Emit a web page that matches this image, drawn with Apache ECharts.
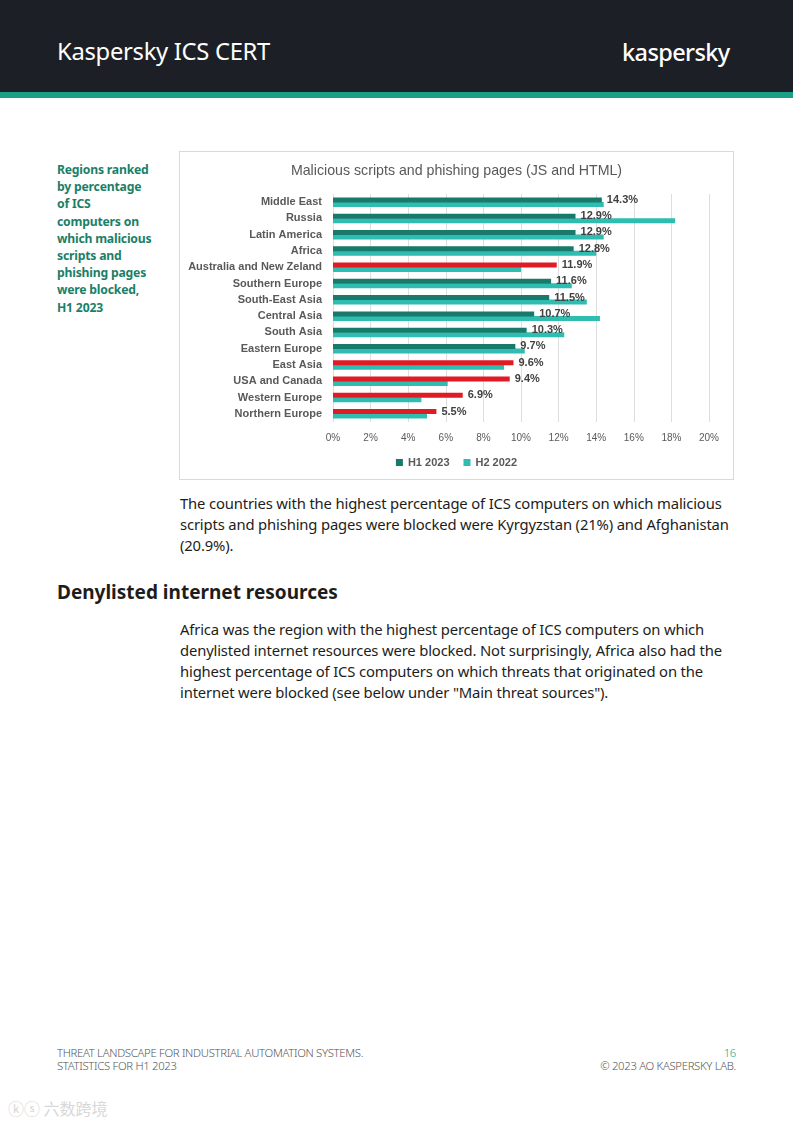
<!DOCTYPE html>
<html>
<head>
<meta charset="utf-8">
<script src="https://cdn.jsdelivr.net/npm/echarts@6/dist/echarts.min.js"></script>
<style>
  html, body { margin:0; padding:0; background:#ffffff; }
  body { width:793px; height:1122px; position:relative; overflow:hidden; font-family:"Noto Sans", "Inter", sans-serif; }
  .hdr { position:absolute; left:0; top:0; width:793px; height:92px; background:#1c1f26; }
  .strip { position:absolute; left:0; top:92px; width:793px; height:6px; background:#1aa086; }
  .brand { position:absolute; left:57px; top:35px; color:#ffffff; font-size:23.8px; font-weight:400; letter-spacing:-0.3px; white-space:nowrap; }
  .logo { position:absolute; left:622px; top:36px; color:#ffffff; font-size:23.5px; font-weight:500; letter-spacing:-0.6px; white-space:nowrap; }
  .side { position:absolute; left:57px; top:161px; color:#1a7f68; font-size:12.2px; font-weight:700; line-height:17.2px; white-space:nowrap; letter-spacing:-0.2px; }
  #chart { position:absolute; left:179px; top:151px; width:555px; height:329px; box-sizing:border-box; border:1px solid #d9d9d9; }
  .body { position:absolute; left:180px; color:#1d1d1b; font-size:14.8px; line-height:21px; white-space:nowrap; letter-spacing:-0.15px; }
  .h2 { position:absolute; left:57px; top:579px; color:#1d1d1b; font-size:19px; font-weight:700; white-space:nowrap; }
  .foot { position:absolute; top:1046px; color:#555555; font-size:11.3px; line-height:13px; white-space:nowrap; letter-spacing:-0.3px; font-weight:300; }
  .wm { position:absolute; left:8px; top:1096px; color:#d8d8d8; font-size:16px; font-family:"Noto Sans CJK SC", sans-serif; white-space:nowrap; }
</style>
</head>
<body>
<div class="hdr"></div>
<div class="strip"></div>
<div class="brand">Kaspersky ICS CERT</div>
<div class="logo">kaspersky</div>

<div class="side">Regions ranked<br>by percentage<br>of ICS<br>computers on<br>which malicious<br>scripts and<br>phishing pages<br>were blocked,<br>H1 2023</div>

<div id="chart"></div>

<div class="body" style="top:493px;">The countries with the highest percentage of ICS computers on which malicious<br>scripts and phishing pages were blocked were Kyrgyzstan (21%) and Afghanistan<br>(20.9%).</div>

<div class="h2">Denylisted internet resources</div>

<div class="body" style="top:619px;">Africa was the region with the highest percentage of ICS computers on which<br>denylisted internet resources were blocked. Not surprisingly, Africa also had the<br>highest percentage of ICS computers on which threats that originated on the<br>internet were blocked (see below under "Main threat sources").</div>

<div class="foot" style="left:57px;">THREAT LANDSCAPE FOR INDUSTRIAL AUTOMATION SYSTEMS.<br>STATISTICS FOR H1 2023</div>
<div class="foot" style="right:57px; text-align:right;"><span style="color:#1aa086;">16</span><br>© 2023 AO KASPERSKY LAB.</div>
<div class="wm">ⓚⓢ 六数跨境</div>

<script>
const categories = ['Middle East','Russia','Latin America','Africa','Australia and New Zeland','Southern Europe','South-East Asia','Central Asia','South Asia','Eastern Europe','East Asia','USA and Canada','Western Europe','Northern Europe'];
const h1_2023 = [14.3,12.9,12.9,12.8,11.9,11.6,11.5,10.7,10.3,9.7,9.6,9.4,6.9,5.5];
const h2_2022 = [14.4,18.2,14.4,14.0,10.0,12.7,13.5,14.2,12.3,10.2,9.1,6.1,4.7,5.0];
const seriesNames = ['H1 2023','H2 2022'];
const xTicks = [0,2,4,6,8,10,12,14,16,18,20];

const DARK = '#177a6a', CYAN = '#2ebdb0', RED = '#e01b24';
const chartFont = '"Liberation Sans", "DejaVu Sans", sans-serif';

const chart = echarts.init(document.getElementById('chart'), null, {renderer:'canvas'});
chart.setOption({
  animation:false,
  title:{ text:'Malicious scripts and phishing pages (JS and HTML)', left:'center', top:7,
    textStyle:{ color:'#595959', fontSize:14.2, fontWeight:'normal', fontFamily:chartFont } },
  legend:{ data:seriesNames, bottom:6, left:'center', itemWidth:7, itemHeight:7, itemGap:14, icon:'rect',
    textStyle:{ color:'#595959', fontSize:11, fontWeight:'bold', fontFamily:chartFont } },
  grid:{ left:153, right:24, top:42, bottom:57, containLabel:false },
  xAxis:{ type:'value', min:xTicks[0], max:xTicks[xTicks.length-1], interval:2,
    axisLine:{show:false}, axisTick:{show:false},
    splitLine:{ lineStyle:{ color:'#dedede', width:1 } },
    axisLabel:{ formatter:'{value}%', color:'#595959', fontSize:10, margin:11, fontFamily:chartFont } },
  yAxis:{ type:'category', data:categories, inverse:true,
    axisLine:{show:false}, axisTick:{show:false},
    axisLabel:{ color:'#595959', fontSize:11, fontWeight:'bold', margin:11, fontFamily:chartFont } },
  series:[
    { name:seriesNames[0], type:'bar', barWidth:5, barGap:'-10%',
      itemStyle:{ color:DARK },
      data:h1_2023.map((v,i)=>({ value:v, itemStyle:{ color: v > h2_2022[i] ? RED : DARK } })),
      label:{ show:true, position:'right', distance:5, formatter:'{c}%', color:'#404040', fontSize:11, fontWeight:'bold', fontFamily:chartFont },
      z:3 },
    { name:seriesNames[1], type:'bar', barWidth:5,
      itemStyle:{ color:CYAN }, data:h2_2022, z:2 }
  ]
});
</script>
</body>
</html>
